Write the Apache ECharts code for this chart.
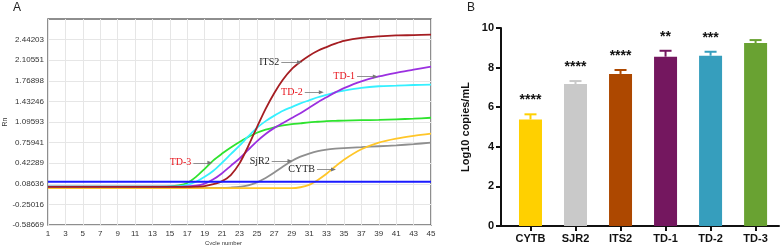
<!DOCTYPE html>
<html>
<head>
<meta charset="utf-8">
<script src="https://cdn.jsdelivr.net/npm/echarts@6/dist/echarts.min.js"></script>
<style>
  html, body { margin: 0; padding: 0; background: #fff; }
  #main { width: 784px; height: 245px; }
</style>
</head>
<body>
<div id="main"></div>
<script>
// panel A: amplification curves (Rn vs cycle)
const cycles = [1, 5, 9, 13, 15, 16, 17, 18, 19, 20, 21, 22, 23, 24, 25, 26, 27, 28, 29, 30, 31, 32, 33, 34, 35, 37, 39, 41, 43, 45];
const its2 = [0.035, 0.035, 0.035, 0.035, 0.035, 0.035, 0.035, 0.04, 0.05, 0.08, 0.13, 0.23, 0.42, 0.70, 1.01, 1.31, 1.57, 1.79, 1.96, 2.08, 2.18, 2.26, 2.32, 2.375, 2.42, 2.47, 2.495, 2.51, 2.515, 2.522];
const td1 = [0.04, 0.04, 0.04, 0.04, 0.04, 0.04, 0.045, 0.055, 0.09, 0.16, 0.26, 0.38, 0.5, 0.64, 0.78, 0.9, 1.0, 1.08, 1.16, 1.24, 1.33, 1.42, 1.5, 1.58, 1.65, 1.76, 1.84, 1.9, 1.95, 2.0];
const td2 = [0.04, 0.04, 0.04, 0.04, 0.045, 0.05, 0.07, 0.12, 0.2, 0.3, 0.43, 0.57, 0.71, 0.86, 1.0, 1.11, 1.2, 1.28, 1.34, 1.40, 1.45, 1.50, 1.54, 1.58, 1.61, 1.655, 1.68, 1.69, 1.70, 1.705];
const td3 = [0.04, 0.04, 0.04, 0.04, 0.045, 0.06, 0.1, 0.2, 0.33, 0.47, 0.58, 0.68, 0.77, 0.85, 0.92, 0.97, 1.01, 1.04, 1.06, 1.075, 1.09, 1.1, 1.11, 1.115, 1.12, 1.125, 1.13, 1.14, 1.15, 1.165];
const sjr2 = [0.02, 0.02, 0.02, 0.02, 0.02, 0.02, 0.02, 0.02, 0.02, 0.02, 0.02, 0.025, 0.035, 0.06, 0.11, 0.18, 0.27, 0.37, 0.46, 0.53, 0.58, 0.62, 0.645, 0.66, 0.67, 0.685, 0.70, 0.715, 0.735, 0.758];
const cytb = [0.015, 0.015, 0.015, 0.015, 0.015, 0.015, 0.015, 0.015, 0.015, 0.015, 0.015, 0.015, 0.015, 0.015, 0.015, 0.015, 0.015, 0.015, 0.015, 0.03, 0.07, 0.15, 0.25, 0.37, 0.48, 0.65, 0.76, 0.825, 0.87, 0.905];
const threshold = 0.12;
const rnTicks = [-0.58669, -0.25016, 0.08636, 0.42289, 0.75941, 1.09593, 1.43246, 1.76898, 2.10551, 2.44203];
const cycleTicks = [1, 3, 5, 7, 9, 11, 13, 15, 17, 19, 21, 23, 25, 27, 29, 31, 33, 35, 37, 39, 41, 43, 45];

// curve labels: text, arrow start/end cycle, Rn level, colour
const curveNotes = [
  ['ITS2', 27.8, 29.9, 2.07, '#222'],
  ['TD-1', 36.5, 38.6, 1.84, '#e8141c'],
  ['TD-2', 30.5, 32.4, 1.58, '#e8141c'],
  ['TD-3', 17.7, 19.6, 0.43, '#e8141c'],
  ['SjR2', 26.7, 28.8, 0.46, '#222'],
  ['CYTB', 31.9, 33.8, 0.32, '#222']
];

// panel B: Log10 copies/mL
const barNames = ['CYTB', 'SJR2', 'ITS2', 'TD-1', 'TD-2', 'TD-3'];
const barMeans = [5.38, 7.17, 7.68, 8.55, 8.6, 9.24];
const barErrors = [0.26, 0.15, 0.2, 0.3, 0.2, 0.15];
const barStars = ['****', '****', '****', '**', '***', ''];
const barColors = ['#ffd000', '#c9c9c9', '#ad4800', '#74175f', '#369ebd', '#69a232'];

const chart = echarts.init(document.getElementById('main'), null, { renderer: 'canvas' });

function curve(name, vals, color) {
  return {
    name: name,
    type: 'line',
    xAxisIndex: 0,
    yAxisIndex: 0,
    smooth: 0.3,
    showSymbol: false,
    lineStyle: { color: color, width: 1.8 },
    data: cycles.map((c, i) => [c, vals[i]])
  };
}

const option = {
  animation: false,
  title: [
    { text: 'A', left: 8, top: -3, textStyle: { fontSize: 12, fontWeight: 'normal', color: '#222', fontFamily: 'Liberation Sans' } },
    { text: 'B', left: 462, top: -3, textStyle: { fontSize: 12, fontWeight: 'normal', color: '#222', fontFamily: 'Liberation Sans' } }
  ],
  grid: [
    { left: 48, top: 19, right: 353, bottom: 20, show: true, borderColor: '#6a6a6a', borderWidth: 1.5, containLabel: false, outerBoundsMode: 'none' },
    { left: 501, top: 28, right: 5, bottom: 19, containLabel: false, outerBoundsMode: 'none' }
  ],
  xAxis: [
    {
      gridIndex: 0,
      type: 'value',
      min: 1,
      max: 45,
      name: 'Cycle number',
      nameLocation: 'middle',
      nameGap: 15,
      nameMoveOverlap: false,
      nameTextStyle: { fontSize: 6, color: '#333', fontFamily: 'Liberation Sans', padding: [0, 32, 0, 0] },
      axisLine: { show: false },
      axisTick: { show: false, customValues: cycleTicks },
      axisLabel: { customValues: cycleTicks, fontSize: 8, color: '#333', margin: 5, fontFamily: 'Liberation Sans' },
      splitLine: { show: true, lineStyle: { color: '#e6e6e6', width: 1 } }
    },
    {
      gridIndex: 1,
      type: 'value',
      min: 0.345,
      max: 6.52,
      axisLine: { show: true, lineStyle: { color: '#111', width: 2 } },
      axisTick: { show: true, customValues: [1, 2, 3, 4, 5, 6], length: 5, lineStyle: { color: '#111', width: 2 } },
      axisLabel: {
        customValues: [1, 2, 3, 4, 5, 6],
        formatter: (v) => barNames[Math.round(v) - 1],
        fontSize: 11, fontWeight: 'bold', color: '#111', margin: 7, fontFamily: 'Liberation Sans'
      },
      splitLine: { show: false }
    }
  ],
  yAxis: [
    {
      gridIndex: 0,
      type: 'value',
      min: -0.58669,
      max: 2.77855,
      name: 'Rn',
      nameLocation: 'middle',
      nameGap: 39,
      nameRotate: 90,
      nameMoveOverlap: false,
      nameTextStyle: { fontSize: 7, color: '#333', fontFamily: 'Liberation Sans' },
      axisLine: { show: false },
      axisTick: { show: false, customValues: rnTicks },
      axisLabel: { customValues: rnTicks, formatter: (v) => v.toFixed(5), fontSize: 8, color: '#333', margin: 4, fontFamily: 'Liberation Sans' },
      splitLine: { show: true, lineStyle: { color: '#e6e6e6', width: 1 } }
    },
    {
      gridIndex: 1,
      type: 'value',
      min: 0,
      max: 10,
      interval: 2,
      name: 'Log10 copies/mL',
      nameLocation: 'middle',
      nameGap: 30,
      nameMoveOverlap: false,
      nameTextStyle: { fontSize: 11, fontWeight: 'bold', color: '#111', fontFamily: 'Liberation Sans' },
      axisLine: { show: true, lineStyle: { color: '#111', width: 2 } },
      axisTick: { show: true, length: 5, lineStyle: { color: '#111', width: 2 } },
      axisLabel: { fontSize: 11, fontWeight: 'bold', color: '#111', margin: 7, fontFamily: 'Liberation Sans' },
      splitLine: { show: false }
    }
  ],
  series: [
    curve('SjR2', sjr2, '#8f8f8f'),
    curve('CYTB', cytb, '#ffc629'),
    curve('TD-3', td3, '#2ee32e'),
    curve('TD-2', td2, '#36f0ff'),
    curve('TD-1', td1, '#9b30e0'),
    curve('ITS2', its2, '#a51d22'),
    {
      name: 'Threshold',
      type: 'line',
      xAxisIndex: 0,
      yAxisIndex: 0,
      showSymbol: false,
      lineStyle: { color: '#1a1aff', width: 2 },
      data: [[1, threshold], [45, threshold]],
      markLine: {
        silent: true,
        symbol: ['none', 'triangle'],
        symbolSize: [4, 5],
        lineStyle: { color: '#777', width: 0.8, type: 'solid' },
        data: curveNotes.map((n) => [
          {
            coord: [n[1], n[3]],
            symbol: 'none',
            label: {
              show: true, position: 'start', formatter: n[0], distance: 2,
              color: n[4], fontSize: 10, fontFamily: 'Liberation Serif'
            }
          },
          { coord: [n[2], n[3]], symbol: 'triangle', symbolRotate: -90, itemStyle: { color: '#111' } }
        ])
      }
    },
    {
      name: 'Log10 copies/mL',
      type: 'bar',
      xAxisIndex: 1,
      yAxisIndex: 1,
      barWidth: 23,
      data: barMeans.map((v, i) => ({ value: [i + 1, v], itemStyle: { color: barColors[i] } }))
    },
    {
      name: 'SD',
      type: 'custom',
      xAxisIndex: 1,
      yAxisIndex: 1,
      data: barMeans.map((v, i) => [i + 1, v, barErrors[i], i]),
      renderItem: function (params, api) {
        const i = api.value(3);
        const base = api.coord([api.value(0), api.value(1)]);
        const top = api.coord([api.value(0), api.value(1) + api.value(2)]);
        const col = barColors[i];
        return {
          type: 'group',
          children: [
            { type: 'line', shape: { x1: base[0], y1: base[1], x2: top[0], y2: top[1] }, style: { stroke: col, lineWidth: 2 } },
            { type: 'line', shape: { x1: top[0] - 6, y1: top[1], x2: top[0] + 6, y2: top[1] }, style: { stroke: col, lineWidth: 2 } },
            {
              type: 'text',
              x: top[0], y: top[1] - 7,
              style: {
                text: barStars[i], fill: '#111', align: 'center', verticalAlign: 'bottom',
                font: 'bold 14px "Liberation Sans"'
              }
            }
          ]
        };
      }
    }
  ]
};

chart.setOption(option);
</script>
</body>
</html>
